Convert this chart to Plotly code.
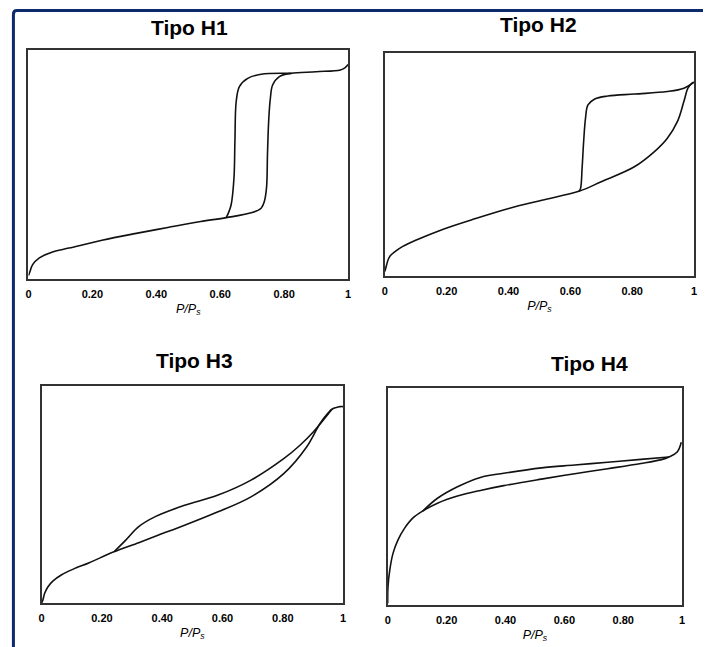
import plotly.graph_objects as go

# Relative pressure ticks shared by all four panels
tick_vals = [0, 0.2, 0.4, 0.6, 0.8, 1.0]
tick_text = ["0", "0.20", "0.40", "0.60", "0.80", "1"]

# --- Tipo H1: adsorption (lower) and desorption (upper) branches
h1_ads_x = [0.0, 0.003, 0.013, 0.034, 0.075, 0.127, 0.23, 0.333, 0.436, 0.539, 0.619,
            0.70, 0.728, 0.738, 0.745, 0.748, 0.752, 0.757, 0.764, 0.785, 0.821, 0.90,
            0.976, 0.99, 1.0]
h1_ads_y = [0.015, 0.026, 0.0625, 0.092, 0.118, 0.135, 0.169, 0.198, 0.225, 0.251, 0.268,
            0.29, 0.309, 0.338, 0.40, 0.55, 0.70, 0.79, 0.847, 0.884, 0.898, 0.905,
            0.913, 0.922, 0.937]
h1_des_x = [0.821, 0.728, 0.686, 0.66, 0.65, 0.646, 0.643, 0.634, 0.626, 0.619]
h1_des_y = [0.898, 0.894, 0.876, 0.84, 0.774, 0.60, 0.44, 0.323, 0.29, 0.268]

# --- Tipo H2
h2_ads_x = [0.0, 0.003, 0.016, 0.048, 0.102, 0.187, 0.294, 0.401, 0.508, 0.63, 0.70,
            0.807, 0.871, 0.913, 0.946, 0.967, 0.98, 0.99, 0.999]
h2_ads_y = [0.02, 0.034, 0.087, 0.124, 0.161, 0.209, 0.258, 0.303, 0.34, 0.381, 0.423,
            0.49, 0.557, 0.617, 0.692, 0.782, 0.842, 0.86, 0.869]
h2_des_x = [0.999, 0.967, 0.913, 0.807, 0.721, 0.679, 0.657, 0.649, 0.643, 0.638, 0.633, 0.628]
h2_des_y = [0.869, 0.842, 0.827, 0.816, 0.807, 0.794, 0.767, 0.707, 0.602, 0.483, 0.393, 0.38]

# --- Tipo H3
h3_ads_x = [0.0, 0.004, 0.01, 0.021, 0.037, 0.065, 0.103, 0.158, 0.24, 0.322, 0.388,
            0.474, 0.583, 0.693, 0.803, 0.879, 0.923, 0.95, 0.963, 0.975, 0.99, 1.0]
h3_ads_y = [0.0, 0.014, 0.045, 0.075, 0.101, 0.129, 0.155, 0.186, 0.236, 0.278, 0.313,
            0.358, 0.419, 0.488, 0.596, 0.719, 0.826, 0.875, 0.893, 0.90, 0.905, 0.905]
h3_des_x = [0.963, 0.901, 0.857, 0.803, 0.693, 0.583, 0.474, 0.377, 0.322, 0.279, 0.24]
h3_des_y = [0.893, 0.788, 0.727, 0.665, 0.565, 0.496, 0.45, 0.398, 0.352, 0.29, 0.236]

# --- Tipo H4
h4_ads_x = [0.0, 0.001, 0.007, 0.018, 0.035, 0.057, 0.085, 0.119, 0.169, 0.237, 0.315,
            0.394, 0.522, 0.635, 0.747, 0.86, 0.93, 0.955, 0.983, 0.997]
h4_ads_y = [0.008, 0.084, 0.161, 0.238, 0.30, 0.353, 0.40, 0.433, 0.469, 0.502, 0.528,
            0.55, 0.58, 0.605, 0.628, 0.652, 0.67, 0.682, 0.705, 0.75]
h4_des_x = [0.955, 0.86, 0.747, 0.635, 0.522, 0.394, 0.315, 0.237, 0.169, 0.119]
h4_des_y = [0.682, 0.671, 0.658, 0.645, 0.632, 0.607, 0.588, 0.545, 0.492, 0.433]

titles = ["Tipo H1", "Tipo H2", "Tipo H3", "Tipo H4"]
branches = [
    (h1_ads_x, h1_ads_y, h1_des_x, h1_des_y),
    (h2_ads_x, h2_ads_y, h2_des_x, h2_des_y),
    (h3_ads_x, h3_ads_y, h3_des_x, h3_des_y),
    (h4_ads_x, h4_ads_y, h4_des_x, h4_des_y),
]

W, H = 706, 647
# panel boxes in pixels: (left, right, top, bottom)
boxes = [(25.7, 348, 50, 279), (385, 697, 53, 276), (39, 343, 386, 603), (388, 685, 388, 605)]
title_pos = [(188, 28), (540, 25), (193, 360), (592, 363)]

FONT = "Liberation Sans, Arial, sans-serif"
fig = go.Figure()

for i, (ax, ay, dx, dy) in enumerate(branches):
    n = "" if i == 0 else str(i + 1)
    for xs, ys in ((ax, ay), (dx, dy)):
        fig.add_trace(go.Scatter(
            x=xs, y=ys, mode="lines", xaxis="x" + n, yaxis="y" + n,
            line=dict(color="#111111", width=1.6, shape="spline", smoothing=1.0),
            showlegend=False, hoverinfo="skip"))
    l, r, t, b = boxes[i]
    fig.layout["xaxis" + n] = dict(
        domain=[l / W, r / W], range=[0, 1], anchor="y" + n,
        showline=True, mirror=True, linecolor="#333333", linewidth=1.5,
        showgrid=False, zeroline=False, ticks="",
        tickvals=tick_vals, ticktext=tick_text, ticklabelstandoff=4,
        tickfont=dict(family=FONT, size=11, color="#000000", weight="bold"),
        title=dict(text="P/P<sub>s</sub>", standoff=5,
                   font=dict(family=FONT, size=12.5, color="#000000", style="italic")),
    )
    fig.layout["yaxis" + n] = dict(
        domain=[1 - b / H, 1 - t / H], range=[0, 1], anchor="x" + n,
        showline=True, mirror=True, linecolor="#333333", linewidth=1.5,
        showgrid=False, zeroline=False, showticklabels=False, ticks="",
    )
    tx, ty = title_pos[i]
    fig.add_annotation(
        x=tx / W, y=1 - ty / H, xref="paper", yref="paper", text="<b>" + titles[i] + "</b>",
        showarrow=False, xanchor="center", yanchor="middle",
        font=dict(family=FONT, size=21, color="#000000"))

# navy slide frame along the left and top edges
fx, fy = 10.5 / W, 1 - 10.5 / H
fig.add_shape(type="path", xref="paper", yref="paper",
              path=f"M {fx},0 L {fx},{fy - 0.006} Q {fx},{fy} {fx + 0.005},{fy} L 1,{fy}",
              line=dict(color="#0c2a6c", width=3))

fig.update_layout(width=W, height=H, margin=dict(l=0, r=0, t=0, b=0),
                  paper_bgcolor="white", plot_bgcolor="white")
fig.write_html("out.html")
